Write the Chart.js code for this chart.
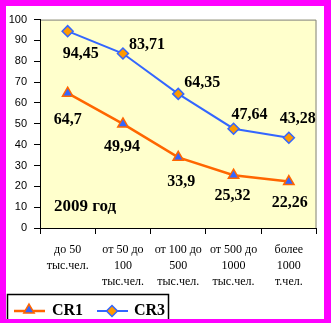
<!DOCTYPE html>
<html>
<head>
<meta charset="utf-8">
<script src="https://cdn.jsdelivr.net/npm/chart.js@4/dist/chart.umd.min.js"></script>
<style>
  body { margin: 0; background: #ff00ff; width: 331px; height: 323px; overflow: hidden; }
  #wrap { position: absolute; left: 6px; top: 6px; width: 318px; height: 313px; background: #fff; overflow: hidden; }
</style>
</head>
<body>
<div id="wrap"><canvas id="myChart" width="318" height="313"></canvas></div>
<script>
var categories = [
  ["до 50", "тыс.чел."],
  ["от 50 до", "100", "тыс.чел."],
  ["от 100 до", "500", "тыс.чел."],
  ["от 500 до", "1000", "тыс.чел."],
  ["более", "1000", "т.чел."]
];
var cr1 = [64.7, 49.94, 33.9, 25.32, 22.26];
var cr3 = [94.45, 83.71, 64.35, 47.64, 43.28];
var cr1Labels = ["64,7", "49,94", "33,9", "25,32", "22,26"];
var cr3Labels = ["94,45", "83,71", "64,35", "47,64", "43,28"];
var yearText = "2009 год";

// label offsets from the point, in px
var cr1Offsets = [[0, 27], [-1, 23], [3, 25], [-1, 21], [1, 21]];
var cr3Offsets = [[13, 23], [24, -9], [24, -11], [16, -14], [9, -19]];

var orange = "#ff6600";
var blue = "#3366ff";
var diamondFill = "#ff9900";

function drawTri(ctx, x, y, r) {
  ctx.beginPath();
  ctx.moveTo(x, y - r);
  ctx.lineTo(x + Math.sin(2 * Math.PI / 3) * r, y - Math.cos(2 * Math.PI / 3) * r);
  ctx.lineTo(x + Math.sin(4 * Math.PI / 3) * r, y - Math.cos(4 * Math.PI / 3) * r);
  ctx.closePath();
  ctx.fillStyle = blue;
  ctx.fill();
  ctx.strokeStyle = orange;
  ctx.lineWidth = 1.5;
  ctx.stroke();
}

function drawDiamond(ctx, x, y, r) {
  ctx.beginPath();
  ctx.moveTo(x - r, y);
  ctx.lineTo(x, y - r);
  ctx.lineTo(x + r, y);
  ctx.lineTo(x, y + r);
  ctx.closePath();
  ctx.fillStyle = diamondFill;
  ctx.fill();
  ctx.strokeStyle = blue;
  ctx.lineWidth = 1.5;
  ctx.stroke();
}

var decor = {
  id: "decor",
  beforeDraw: function (chart) {
    var ctx = chart.ctx, a = chart.chartArea;
    ctx.save();
    ctx.fillStyle = "#ffffcc";
    ctx.fillRect(a.left, a.top, a.right - a.left, a.bottom - a.top);
    ctx.strokeStyle = "#808080";
    ctx.lineWidth = 1;
    ctx.beginPath();
    ctx.moveTo(a.left, a.top + 0.5);
    ctx.lineTo(a.right - 0.5, a.top + 0.5);
    ctx.lineTo(a.right - 0.5, a.bottom);
    ctx.stroke();
    ctx.restore();
  },
  afterDatasetsDraw: function (chart) {
    var ctx = chart.ctx;
    ctx.save();
    ctx.fillStyle = "#000";
    ctx.font = "bold 16px 'Liberation Serif'";
    ctx.textAlign = "center";
    ctx.textBaseline = "middle";
    var sets = [[0, cr1Labels, cr1Offsets], [1, cr3Labels, cr3Offsets]];
    sets.forEach(function (s) {
      var meta = chart.getDatasetMeta(s[0]);
      meta.data.forEach(function (pt, i) {
        ctx.fillText(s[1][i], pt.x + s[2][i][0], pt.y + s[2][i][1]);
      });
    });
    ctx.font = "bold 17px 'Liberation Serif'";
    ctx.fillText(yearText, 79, 201);

    // legend
    ctx.strokeStyle = "#000";
    ctx.lineWidth = 1.5;
    ctx.strokeRect(1.5, 288.5, 161, 30);
    ctx.lineWidth = 2.5;
    ctx.strokeStyle = orange;
    ctx.beginPath(); ctx.moveTo(8, 305); ctx.lineTo(39, 305); ctx.stroke();
    drawTri(ctx, 23, 304, 6);
    ctx.lineWidth = 2;
    ctx.strokeStyle = blue;
    ctx.beginPath(); ctx.moveTo(91, 305); ctx.lineTo(122, 305); ctx.stroke();
    drawDiamond(ctx, 106, 305, 5.5);
    ctx.fillStyle = "#000";
    ctx.font = "bold 16px 'Liberation Serif'";
    ctx.textAlign = "left";
    ctx.textBaseline = "alphabetic";
    ctx.fillText("CR1", 46, 309);
    ctx.fillText("CR3", 128, 309);
    ctx.restore();
  }
};

var chart = new Chart(document.getElementById("myChart").getContext("2d"), {
  type: "line",
  data: {
    labels: categories,
    datasets: [
      {
        label: "CR1",
        data: cr1,
        borderColor: orange,
        borderWidth: 2.5,
        pointStyle: "triangle",
        pointRadius: 6,
        pointBackgroundColor: blue,
        pointBorderColor: orange,
        pointBorderWidth: 1.5,
        tension: 0,
        clip: false
      },
      {
        label: "CR3",
        data: cr3,
        borderColor: blue,
        borderWidth: 2,
        pointStyle: "rectRot",
        pointRadius: 5.5,
        pointBackgroundColor: diamondFill,
        pointBorderColor: blue,
        pointBorderWidth: 1.5,
        tension: 0,
        clip: false
      }
    ]
  },
  options: {
    responsive: false,
    animation: false,
    devicePixelRatio: 1,
    layout: { padding: { top: 11, right: 0, left: 0, bottom: 0 } },
    plugins: { legend: { display: false }, tooltip: { enabled: false } },
    scales: {
      x: {
        offset: true,
        grid: { offset: true, drawOnChartArea: false, drawTicks: true, tickLength: 6, color: "#000" },
        border: { color: "#000", width: 1 },
        ticks: {
          autoSkip: false,
          maxRotation: 0,
          padding: 8,
          color: "#000",
          font: { family: "'Liberation Serif'", size: 12, lineHeight: 1.3333 }
        },
        afterFit: function (s) { s.height = 91; }
      },
      y: {
        min: 0,
        max: 100,
        grid: { drawOnChartArea: false, drawTicks: true, tickLength: 6, color: "#000" },
        border: { color: "#000", width: 1 },
        ticks: {
          stepSize: 10,
          padding: 7,
          color: "#000",
          font: { family: "'Liberation Sans'", size: 11 }
        },
        afterFit: function (s) { s.width = 34; }
      }
    }
  },
  plugins: [decor]
});
</script>
</body>
</html>
